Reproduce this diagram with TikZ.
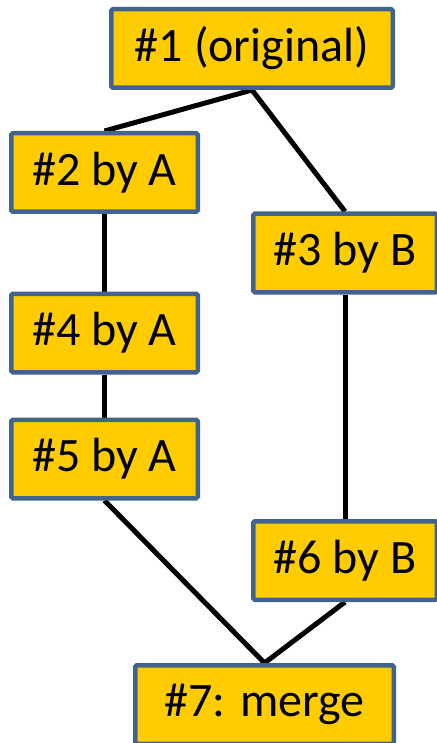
\documentclass[tikz,border=0pt]{standalone}
\usepackage{fontspec}
\setmainfont{Carlito}
\usepackage{xcolor}
\usetikzlibrary{positioning, backgrounds}

\definecolor{boxfill}{HTML}{FFCC00}
\definecolor{boxline}{HTML}{41648F}

\begin{document}
\begin{tikzpicture}[node distance=2cm, on grid,
    rev/.style={draw=boxline, fill=boxfill, line width=4.5pt, rounded corners=1.5pt,
      minimum height=78.5pt, inner sep=0pt, font=\fontsize{48}{54}\selectfont},
    link/.style={line width=5pt}]

        \useasboundingbox (0,0) rectangle (436pt,-743pt);

        % Nodes
        \node (R1) [rev, minimum width=281.5pt] at (252pt,-48.5pt) {\#1 (original)};
        \node (R2) [rev, minimum width=186.5pt, below left=124pt and 147.5pt of R1] {\#2 by A};
        \node (R3) [rev, minimum width=183.5pt, below right=204.5pt and 93pt of R1] {\#3 by B};
        \node (R4) [rev, minimum width=186.5pt, below=160.5pt of R2] {\#4 by A};
        \node (R5) [rev, minimum width=186.5pt, below=126pt of R4] {\#5 by A};
        \node (R6) [rev, minimum width=183.5pt, below=307.5pt of R3] {\#6 by B};
        \node (R7) [rev, minimum width=258.5pt, below right=245.5pt and 160pt of R5] {\#7: merge};

        % Lines
        \begin{scope}[on background layer]
        \draw[link] (R1.south) -- (R2.north);
        \draw[link] (R1.south) -- (R3.north);
        \draw[link] (R2) -- (R4);
        \draw[link] (R4) -- (R5);
        \draw[link] (R3) -- (R6);
        \draw[link] (R5.south) -- (R7.north);
        \draw[link] (R6.south) -- (R7.north);
        \end{scope}

\end{tikzpicture}
\end{document}
